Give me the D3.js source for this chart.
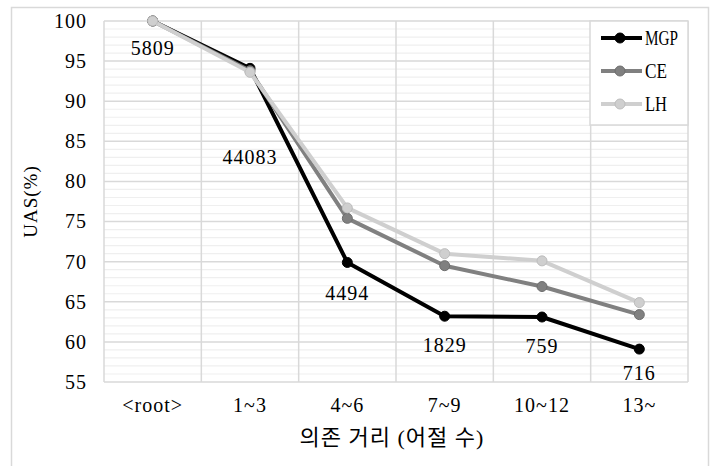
<!DOCTYPE html>
<html>
<head>
<meta charset="utf-8">
<script src="https://cdn.jsdelivr.net/npm/d3@7"></script>
<style>
  html, body { margin: 0; padding: 0; background: #fff; }
  svg { display: block; }
  svg text { font-family: "Liberation Serif", "Times New Roman", "Noto Sans CJK KR", serif !important; fill: #000; }
</style>
</head>
<body>
<svg id="chart" width="717" height="466"></svg>
<script>
// Dependency distance buckets (x axis)
const categories = ["<root>", "1~3", "4~6", "7~9", "10~12", "13~"];
// UAS (%) per parser
const mgp = [100, 94.1, 69.9, 63.2, 63.1, 59.1];
const ce  = [100, 93.8, 75.4, 69.5, 66.9, 63.4];
const lh  = [100, 93.6, 76.7, 71.0, 70.1, 64.9];
// Number of dependencies in each bucket (shown under the MGP line)
const counts = ["5809", "44083", "4494", "1829", "759", "716"];
const seriesNames = ["MGP", "CE", "LH"];
const yTicks = [55, 60, 65, 70, 75, 80, 85, 90, 95, 100];

const svg = d3.select("#chart");
const plot = { left: 104, right: 688, top: 21, bottom: 382 };

// outer chart frame
svg.append("rect")
  .attr("x", 11.5).attr("y", 7.5).attr("width", 697).attr("height", 470)
  .attr("fill", "#fff").attr("stroke", "#d9d9d9").attr("stroke-width", 1.5);

const x = d3.scaleBand().domain(categories).range([plot.left, plot.right]).padding(0);
const y = d3.scaleLinear().domain([55, 100]).range([plot.bottom, plot.top]);

const g = svg.append("g");

// minor horizontal gridlines, every 1%
const minor = d3.range(56, 100).filter(v => v % 5 !== 0);
g.selectAll(".minor").data(minor).enter().append("line")
  .attr("x1", plot.left).attr("x2", plot.right)
  .attr("y1", d => y(d)).attr("y2", d => y(d))
  .attr("stroke", "#efefef").attr("stroke-width", 1.2);

// major horizontal gridlines
g.selectAll(".major").data(yTicks).enter().append("line")
  .attr("x1", plot.left).attr("x2", plot.right)
  .attr("y1", d => y(d)).attr("y2", d => y(d))
  .attr("stroke", "#d9d9d9").attr("stroke-width", 1.5);

// vertical gridlines at category boundaries (including plot edges)
const bounds = categories.map(c => x(c)).concat([plot.right]);
g.selectAll(".vgrid").data(bounds).enter().append("line")
  .attr("x1", d => d).attr("x2", d => d)
  .attr("y1", plot.top).attr("y2", plot.bottom)
  .attr("stroke", "#d9d9d9").attr("stroke-width", 1.5);

// y axis
const yAxis = d3.axisLeft(y).tickValues(yTicks).tickSize(0).tickPadding(17);
const yg = svg.append("g").attr("transform", `translate(${plot.left},0)`).call(yAxis);
yg.select(".domain").remove();
yg.selectAll("text").attr("font-size", 20).style("letter-spacing", "1px").attr("fill", "#000");

// x axis
const xAxis = d3.axisBottom(x).tickSize(0).tickPadding(16);
const xg = svg.append("g").attr("transform", `translate(0,${plot.bottom})`).call(xAxis);
xg.select(".domain").remove();
xg.selectAll("text").attr("font-size", 20).style("letter-spacing", "1px").attr("fill", "#000");

// axis titles
svg.append("text")
  .attr("x", (plot.left + plot.right) / 2 - 4).attr("y", 445)
  .attr("text-anchor", "middle").attr("font-size", 22)
  .style("letter-spacing", "1px")
  .text("의존 거리 (어절 수)");

svg.append("text")
  .attr("transform", `translate(37,${(plot.top + plot.bottom) / 2}) rotate(-90)`)
  .attr("text-anchor", "middle").attr("font-size", 19)
  .style("letter-spacing", "1px")
  .text("UAS(%)");

// series lines
const series = [
  { name: seriesNames[0], values: mgp, color: "#000000", rim: "#000000" },
  { name: seriesNames[1], values: ce,  color: "#808080", rim: "#6e6e6e" },
  { name: seriesNames[2], values: lh,  color: "#cfcfcf", rim: "#bdbdbd" }
];
const cx = c => x(c) + x.bandwidth() / 2;
const line = d3.line().x((d, i) => cx(categories[i])).y(d => y(d));

series.forEach(s => {
  const sg = svg.append("g");
  sg.append("path").datum(s.values)
    .attr("d", line).attr("fill", "none")
    .attr("stroke", s.color).attr("stroke-width", 4)
    .attr("stroke-linejoin", "round");
  sg.selectAll("circle").data(s.values).enter().append("circle")
    .attr("cx", (d, i) => cx(categories[i])).attr("cy", d => y(d))
    .attr("r", 5).attr("fill", s.color)
    .attr("stroke", s.rim).attr("stroke-width", 1);
});

// count labels below the MGP points
const labelDy = [27, 89, 31, 29, 29, 24];
svg.selectAll(".count").data(counts).enter().append("text")
  .attr("x", (d, i) => cx(categories[i]))
  .attr("y", (d, i) => y(mgp[i]) + labelDy[i])
  .attr("dy", "0.35em")
  .attr("text-anchor", "middle").attr("font-size", 20)
  .style("letter-spacing", "1px")
  .text(d => d);

// legend
const lg = svg.append("g");
lg.append("rect")
  .attr("x", 590).attr("y", 21).attr("width", 98).attr("height", 104)
  .attr("fill", "#fff").attr("stroke", "#d9d9d9").attr("stroke-width", 1.5);
const legendY = [38, 71, 104];
const legendW = [33, 22, 22];
series.forEach((s, i) => {
  lg.append("line")
    .attr("x1", 601).attr("x2", 642)
    .attr("y1", legendY[i]).attr("y2", legendY[i])
    .attr("stroke", s.color).attr("stroke-width", 4);
  lg.append("circle")
    .attr("cx", 620).attr("cy", legendY[i]).attr("r", 5)
    .attr("fill", s.color).attr("stroke", s.rim).attr("stroke-width", 1);
  lg.append("text")
    .attr("x", 645).attr("y", legendY[i]).attr("dy", "0.35em")
    .attr("font-size", 21)
    .attr("textLength", legendW[i]).attr("lengthAdjust", "spacingAndGlyphs")
    .text(s.name);
});
</script>
</body>
</html>
